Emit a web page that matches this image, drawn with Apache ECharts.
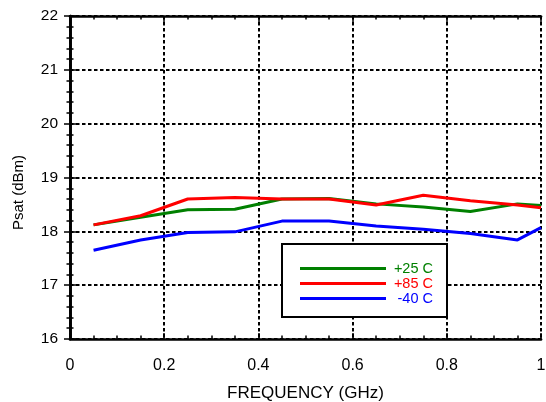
<!DOCTYPE html>
<html>
<head>
<meta charset="utf-8">
<script src="https://cdn.jsdelivr.net/npm/echarts@6/dist/echarts.min.js"></script>
<style>html,body{margin:0;padding:0;background:#fff}#c{width:546px;height:402px}</style>
</head>
<body>
<div id="c"></div>
<script>
var freq = [0.05, 0.15, 0.25, 0.35, 0.45, 0.55, 0.65, 0.75, 0.85, 0.95, 1.0];
var psat25 = [18.12, 18.26, 18.40, 18.41, 18.60, 18.61, 18.51, 18.45, 18.37, 18.51, 18.48];
var psat85 = [18.12, 18.29, 18.60, 18.63, 18.60, 18.60, 18.49, 18.67, 18.57, 18.49, 18.44];
var psatM40 = [17.65, 17.84, 17.98, 17.99, 18.19, 18.19, 18.10, 18.04, 17.96, 17.84, 18.07];
var seriesNames = ['+25 C', '+85 C', '-40 C'];
var seriesColors = ['#008000', '#ff0000', '#0000ff'];
var xTickLabels = ['0', '0.2', '0.4', '0.6', '0.8', '1'];
var yTickLabels = ['16', '17', '18', '19', '20', '21', '22'];

function pairs(xs, ys) { return xs.map(function (x, i) { return [x, ys[i]]; }); }
var values = [psat25, psat85, psatM40];
var richKeys = ['g', 'r', 'b'];
var rich = {};
richKeys.forEach(function (k, i) {
  rich[k] = { color: seriesColors[i], fontSize: 14.5, width: 42, align: 'right', fontFamily: 'Liberation Sans, Arial, sans-serif', lineHeight: 15 };
});

var axisLine = { show: true, lineStyle: { color: '#000', width: 2.7 } };
var font = 'Liberation Sans, Arial, sans-serif';
var grid = { color: '#000', width: 2, type: [3.5, 2.5] };

var chart = echarts.init(document.getElementById('c'));
chart.setOption({
  animation: false,
  backgroundColor: '#fff',
  grid: { left: 70, right: 5, top: 16, bottom: 63, containLabel: false, outerBoundsMode: 'none' },
  legend: {
    data: seriesNames,
    orient: 'vertical',
    left: 282, top: 244,
    padding: [17, 14, 11, 18],
    itemGap: 0,
    itemWidth: 86, itemHeight: 3,
    icon: 'rect',
    borderColor: '#000', borderWidth: 2,
    backgroundColor: '#fff',
    formatter: function (name) { var i = seriesNames.indexOf(name); return '{' + richKeys[i] + '|' + name + '}'; },
    textStyle: { rich: rich, fontSize: 14.5, lineHeight: 15, fontFamily: font }
  },
  xAxis: [{
    type: 'value', min: 0, max: 1, interval: 0.2, position: 'bottom',
    name: 'FREQUENCY (GHz)', nameLocation: 'middle', nameGap: 46,
    nameTextStyle: { fontSize: 17, color: '#000', fontFamily: font },
    axisLine: axisLine,
    axisTick: { show: true, inside: true, length: 6, lineStyle: { color: '#000', width: 1.5 } },
    minorTick: { show: true, splitNumber: 4, length: 3.5, lineStyle: { color: '#000', width: 1.5 } },
    axisLabel: { margin: 19, fontSize: 16, color: '#000', fontFamily: font,
      formatter: function (v) { return xTickLabels[Math.round(v / 0.2)]; } },
    splitLine: { show: true, lineStyle: grid }
  }, {
    type: 'value', min: 0, max: 1, interval: 0.2, position: 'top',
    axisLine: axisLine,
    axisTick: { show: true, inside: true, length: 6, lineStyle: { color: '#000', width: 1.5 } },
    minorTick: { show: true, splitNumber: 4, length: 3.5, lineStyle: { color: '#000', width: 1.5 } },
    axisLabel: { show: false }, splitLine: { show: false }
  }],
  yAxis: [{
    type: 'value', min: 16, max: 22, interval: 1, position: 'left',
    name: 'Psat (dBm)', nameLocation: 'middle', nameGap: 44, nameRotate: 90,
    nameTextStyle: { fontSize: 15, color: '#000', fontFamily: font, padding: [0, 30, 0, 0] },
    axisLine: axisLine,
    axisTick: { show: true, inside: true, length: 6, lineStyle: { color: '#000', width: 1.5 } },
    minorTick: { show: true, splitNumber: 5, length: 3.5, lineStyle: { color: '#000', width: 1.5 } },
    axisLabel: { margin: 12, fontSize: 15.5, color: '#000', fontFamily: font,
      formatter: function (v) { return yTickLabels[Math.round(v - 16)]; } },
    splitLine: { show: true, lineStyle: grid }
  }, {
    type: 'value', min: 16, max: 22, interval: 1, position: 'right',
    axisLine: axisLine,
    axisTick: { show: true, inside: true, length: 6, lineStyle: { color: '#000', width: 1.5 } },
    minorTick: { show: true, splitNumber: 5, length: 3.5, lineStyle: { color: '#000', width: 1.5 } },
    axisLabel: { show: false }, splitLine: { show: false }
  }],
  series: seriesNames.map(function (n, i) {
    return {
      name: n, type: 'line', xAxisIndex: 0, yAxisIndex: 0,
      data: pairs(freq, values[i]), showSymbol: false, symbol: 'none',
      lineStyle: { color: seriesColors[i], width: 3 }, itemStyle: { color: seriesColors[i] },
      z: 3
    };
  })
});
</script>
</body>
</html>
